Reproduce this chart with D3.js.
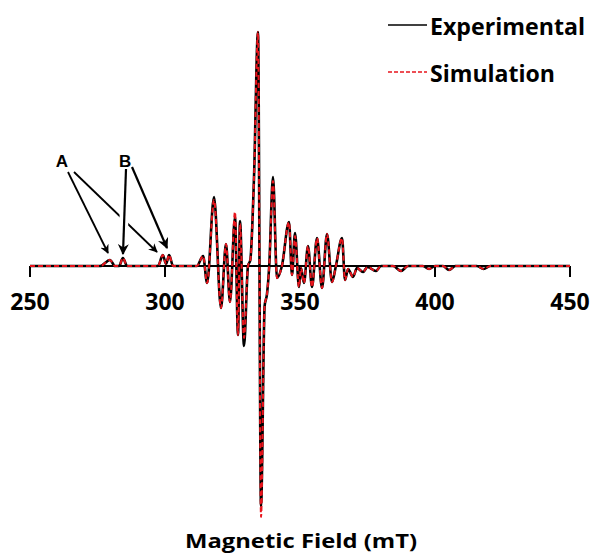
<!DOCTYPE html>
<html lang="en">
<head>
<meta charset="UTF-8">
<title>EPR spectrum</title>
<script src="https://d3js.org/d3.v7.min.js"></script>
<style>
  body { margin: 0; background: #fff; }
  svg { display: block; }
  .lbl { font-family: "Open Sans", Arial, sans-serif; font-weight: bold; fill: #000; }
</style>
</head>
<body>
<svg id="chart" width="594" height="556"></svg>
<script>
// magnetic field (mT) at the turning points of the trace
const field = [250, 276, 279.6, 281.5, 283, 284.4, 286, 297.4, 299.2, 300.4, 301.5, 303,
  311.8, 314.1, 315.6, 318.15, 320.74, 322.59, 324.07, 325.93, 327.04, 327.78, 329.26,
  330.74, 331.6, 332.96, 334.44, 335.56, 336.9, 337.78, 338.6, 340, 341.48, 343.3,
  345.93, 347.04, 348.15, 349.63, 350.37, 351.48, 352.96, 354.44, 356.3, 358.15, 360,
  361.85, 363.3, 365.56, 366.67, 367.8, 369.63, 371.11, 373.33, 375, 378.1, 380,
  384.5, 387.4, 390, 395.5, 397.8, 400, 403, 405.2, 407.5, 415.5, 418, 420.5, 450];

// signal intensity (arb. units)
const experimental = [0, 0, 6, 0, 0, 8, 0, 0, 11, 2, 11, 0,
  0, 10, -17, 69, -42, 22, -36, 49, -69, 45, -80,
  0, 6, 88, 234, -240, -40, -28, 0, 89, -12, 0,
  44, -9, 33, -21, -2, -17, 20, -21, 28, -22, 32,
  -16, 0, 28, -14, -3, -11, -2, -6, -1, -5, 0,
  0, -5, 0, 0, -3, 0, 0, -4, 0, 0, -3, 0, 0];

const simulation = [0, 0, 6, 0, 0, 8, 0, 0, 11, 2, 11, 0,
  0, 10, -17, 66, -42, 22, -36, 54, -69, 42, -72,
  0, 6, 88, 234, -251, -40, -28, 0, 85, -12, 0,
  44, -9, 30, -21, -2, -17, 20, -21, 28, -22, 32,
  -16, 0, 28, -14, -3, -11, -2, -6, -1, -5, 0,
  0, -5, 0, 0, -3, 0, 0, -4, 0, 0, -3, 0, 0];

const xTicks = [250, 300, 350, 400, 450];

// annotation arrows: [label, x0, y0, x1, y1] in data units
const arrows = [
  ["A", 264.07, 94, 278.89, 13],
  ["A", 266.3, 94, 297.04, 14],
  ["B", 285.56, 97, 284.44, 12],
  ["B", 287.78, 99, 300.74, 18]
];
const arrowLabels = [["A", 261.85, 99], ["B", 285.2, 99]];

const svg = d3.select("#chart");

const x = d3.scaleLinear().domain([250, 450]).range([30, 570]);
const y = d3.scaleLinear().domain([-250, 250]).range([516, 16]);

svg.append("defs").append("marker")
  .attr("id", "head")
  .attr("viewBox", "0 0 10 10")
  .attr("refX", 9).attr("refY", 5)
  .attr("markerWidth", 5).attr("markerHeight", 5)
  .attr("markerUnits", "strokeWidth")
  .attr("orient", "auto")
  .append("path").attr("d", "M0,0 L10,5 L0,10 L3,5 Z").attr("fill", "#000");

// arrows (the B arrows get a white halo so the long A arrow looks broken under them)
const arrowG = svg.append("g");
arrows.forEach(a => {
  if (a[0] === "B") {
    arrowG.append("line")
      .attr("x1", x(a[1])).attr("y1", y(a[2]))
      .attr("x2", x(a[3])).attr("y2", y(a[4]) - 12)
      .attr("stroke", "#fff").attr("stroke-width", 9);
  }
  arrowG.append("line")
    .attr("x1", x(a[1])).attr("y1", y(a[2]))
    .attr("x2", x(a[3])).attr("y2", y(a[4]))
    .attr("stroke", "#000")
    .attr("stroke-width", a[0] === "B" ? 2.2 : 1.8)
    .attr("marker-end", "url(#head)");
});
arrowLabels.forEach(l => {
  svg.append("text")
    .attr("x", x(l[1])).attr("y", y(l[2]))
    .attr("text-anchor", "middle")
    .style("font-family", "Arial, 'Liberation Sans', sans-serif")
    .style("font-weight", "bold")
    .style("font-size", "17px")
    .text(l[0]);
});

// axis
const axisG = svg.append("g").attr("transform", `translate(0,${y(0)})`);
axisG.append("line")
  .attr("x1", x(250)).attr("x2", x(450))
  .attr("stroke", "#000").attr("stroke-width", 2);
axisG.selectAll(".tick").data(xTicks).join("line")
  .attr("x1", d => x(d)).attr("x2", d => x(d))
  .attr("y1", 0).attr("y2", 11)
  .attr("stroke", "#000").attr("stroke-width", 2);
axisG.selectAll(".tl").data(xTicks).join("text")
  .attr("class", "lbl")
  .attr("x", d => x(d)).attr("y", 44)
  .attr("text-anchor", "middle")
  .style("font-size", "23px")
  .text(d => d);

// spectra
const pts = ys => field.map((f, i) => [f, ys[i]]);
const line = d3.line().x(d => x(d[0])).y(d => y(d[1])).curve(d3.curveMonotoneX);

svg.append("path")
  .attr("d", line(pts(experimental)))
  .attr("fill", "none").attr("stroke", "#000").attr("stroke-width", 2.6)
  .attr("stroke-linejoin", "round");
svg.append("path")
  .attr("d", line(pts(simulation)))
  .attr("fill", "none").attr("stroke", "#e8141c").attr("stroke-width", 2)
  .attr("stroke-dasharray", "5,3");

// legend
const leg = svg.append("g");
leg.append("line").attr("x1", 388).attr("x2", 427).attr("y1", 25).attr("y2", 25)
  .attr("stroke", "#000").attr("stroke-width", 1.6);
leg.append("text").attr("class", "lbl").attr("x", 430).attr("y", 35)
  .attr("textLength", 155).attr("lengthAdjust", "spacingAndGlyphs")
  .style("font-size", "24px").text("Experimental");
leg.append("line").attr("x1", 388).attr("x2", 427).attr("y1", 72).attr("y2", 72)
  .attr("stroke", "#e8141c").attr("stroke-width", 1.5).attr("stroke-dasharray", "4,2");
leg.append("text").attr("class", "lbl").attr("x", 430).attr("y", 82)
  .attr("textLength", 125).attr("lengthAdjust", "spacingAndGlyphs")
  .style("font-size", "24px").text("Simulation");

// axis title
svg.append("text").attr("class", "lbl")
  .attr("x", 301).attr("y", 548)
  .attr("text-anchor", "middle")
  .attr("textLength", 232).attr("lengthAdjust", "spacingAndGlyphs")
  .style("font-size", "20px")
  .text("Magnetic Field (mT)");
</script>
</body>
</html>
